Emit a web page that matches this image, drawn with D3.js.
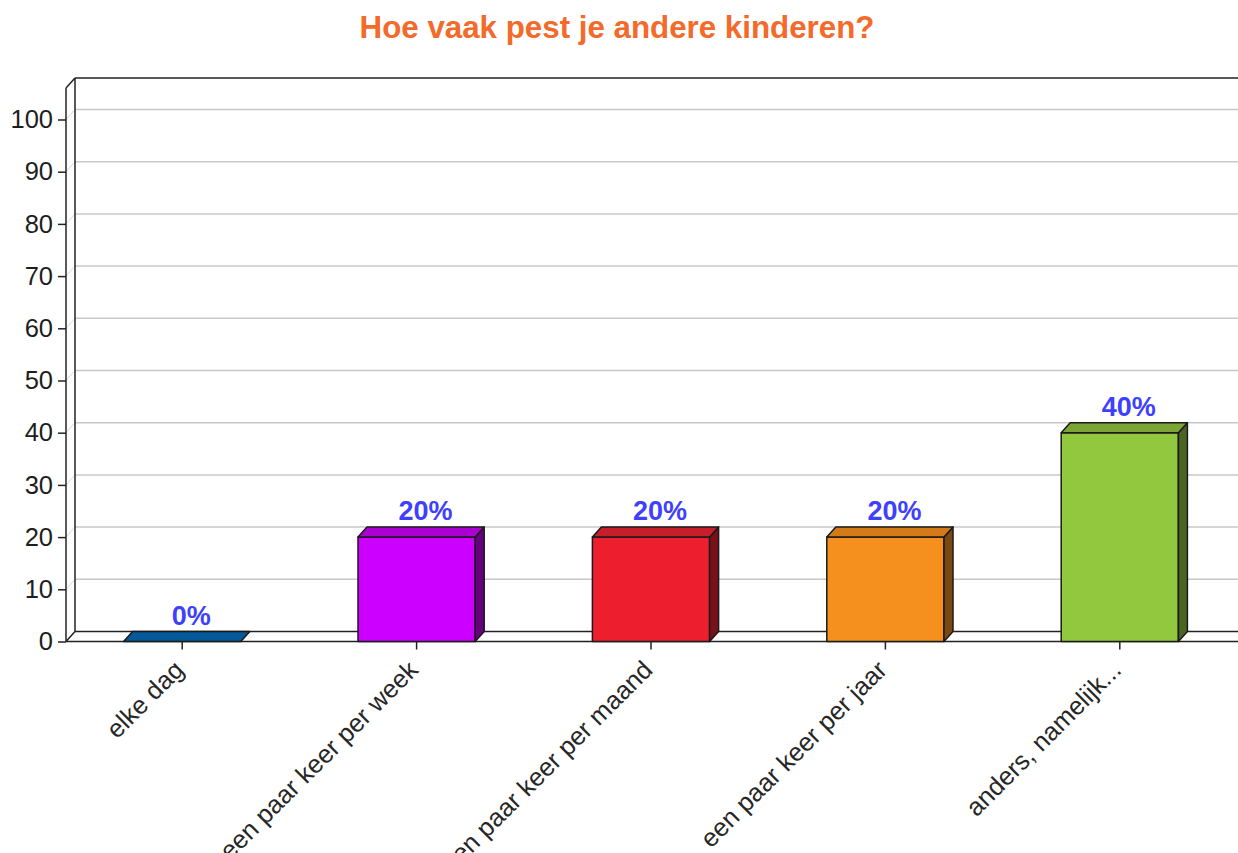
<!DOCTYPE html>
<html>
<head>
<meta charset="utf-8">
<script src="https://cdn.jsdelivr.net/npm/d3@7"></script>
<style>
  html, body { margin: 0; padding: 0; background: #fff; }
  svg { display: block; font-family: "Liberation Sans", Arial, sans-serif; }
</style>
</head>
<body>
<svg id="chart" width="1238" height="853"></svg>
<script>
const title = "Hoe vaak pest je andere kinderen?";
const categories = ["elke dag", "een paar keer per week", "een paar keer per maand", "een paar keer per jaar", "anders, namelijk..."];
const values = [0, 20, 20, 20, 40];
const valueLabels = ["0%", "20%", "20%", "20%", "40%"];
const frontColors = ["#04599a", "#cc00ff", "#ed1f2e", "#f5901e", "#92c83e"];
const topColors   = ["#04599a", "#aa00d4", "#c81d2a", "#d47a18", "#7ba534"];
const sideColors  = ["#034070", "#660080", "#78111a", "#7a4810", "#4a6521"];
const yTicks = [0, 10, 20, 30, 40, 50, 60, 70, 80, 90, 100];

const W = 1238, H = 853;
const svg = d3.select("#chart");
const DX = 9, DY = -10;
const x0 = 66;
const yBottom = 641.5, yTopFront = 88;

const x = d3.scaleBand().domain(categories).range([65, 1237]).paddingInner(0.5).paddingOuter(0.25);
const y = d3.scaleLinear().domain([0, 100]).range([yBottom, 119.5]);

// Title
svg.append("text")
  .attr("x", 617).attr("y", 38)
  .attr("text-anchor", "middle")
  .attr("font-weight", "bold")
  .attr("font-size", 31.3)
  .attr("fill", "#f36a2a")
  .text(title);

// Gridlines on back wall + connectors
const grid = svg.append("g");
grid.selectAll("line.g").data(yTicks.filter(d => d > 0)).join("line")
  .attr("x1", x0 + DX).attr("x2", W)
  .attr("y1", d => y(d) + DY).attr("y2", d => y(d) + DY)
  .attr("stroke", "#c8c8c8").attr("stroke-width", 1.5);
grid.selectAll("line.c").data(yTicks.filter(d => d > 0)).join("line")
  .attr("x1", x0).attr("x2", x0 + DX)
  .attr("y1", d => y(d)).attr("y2", d => y(d) + DY)
  .attr("stroke", "#d8d8d8").attr("stroke-width", 1);

// Frame
const frame = svg.append("g").attr("stroke", "#222").attr("stroke-width", 1.5).attr("fill", "none");
frame.append("line").attr("x1", x0 + DX).attr("x2", x0 + DX).attr("y1", yTopFront + DY).attr("y2", yBottom + DY);
frame.append("line").attr("x1", x0 + DX).attr("x2", W).attr("y1", yTopFront + DY).attr("y2", yTopFront + DY);
frame.append("line").attr("x1", x0).attr("x2", x0 + DX).attr("y1", yTopFront).attr("y2", yTopFront + DY);
frame.append("line").attr("x1", x0 + DX).attr("x2", W).attr("y1", yBottom + DY).attr("y2", yBottom + DY);
frame.append("line").attr("x1", x0).attr("x2", x0 + DX).attr("y1", yBottom).attr("y2", yBottom + DY);
frame.append("line").attr("x1", x0).attr("x2", x0).attr("y1", yTopFront).attr("y2", yBottom);
frame.append("line").attr("x1", x0).attr("x2", W).attr("y1", yBottom).attr("y2", yBottom);

// Bars
const bars = svg.append("g").attr("stroke", "#1a1a1a").attr("stroke-width", 1.5).attr("stroke-linejoin", "round");
categories.forEach((c, i) => {
  const bx = x(c), bw = x.bandwidth(), yt = y(values[i]), yb = y(0);
  if (yb - yt > 0) {
    bars.append("rect").attr("x", bx).attr("y", yt).attr("width", bw).attr("height", yb - yt)
      .attr("fill", frontColors[i]);
    bars.append("polygon")
      .attr("points", [[bx + bw, yt], [bx + bw + DX, yt + DY], [bx + bw + DX, yb + DY], [bx + bw, yb]].join(" "))
      .attr("fill", sideColors[i]);
  }
  bars.append("polygon")
    .attr("points", [[bx, yt], [bx + DX, yt + DY], [bx + bw + DX, yt + DY], [bx + bw, yt]].join(" "))
    .attr("fill", topColors[i]);
});

// Value labels
svg.append("g").selectAll("text").data(categories).join("text")
  .attr("x", (c) => x(c) + x.bandwidth() / 2 + DX)
  .attr("y", (c, i) => y(values[i]) + DY - 7)
  .attr("text-anchor", "middle")
  .attr("font-weight", "bold")
  .attr("font-size", 27)
  .attr("fill", "#3f3fff")
  .text((c, i) => valueLabels[i]);

// Y axis
const yAxis = svg.append("g").attr("transform", `translate(${x0},0)`)
  .call(d3.axisLeft(y).tickValues(yTicks).tickSize(8).tickPadding(5).tickFormat(d3.format("d")));
yAxis.select(".domain").remove();
yAxis.selectAll(".tick line").attr("stroke", "#222").attr("stroke-width", 1.5);
yAxis.selectAll(".tick text").attr("font-size", 25.5).attr("fill", "#1e1e1e")
  .attr("font-family", "Liberation Sans, Arial, sans-serif");

// X axis
const xAxis = svg.append("g").attr("transform", `translate(0,${yBottom})`)
  .call(d3.axisBottom(x).tickSize(8));
xAxis.select(".domain").remove();
xAxis.selectAll(".tick line").attr("stroke", "#222").attr("stroke-width", 1.5);
xAxis.selectAll(".tick text")
  .attr("font-size", 25.5).attr("fill", "#262626")
  .attr("font-family", "Liberation Sans, Arial, sans-serif")
  .attr("text-anchor", "end")
  .attr("x", 0).attr("y", 0).attr("dy", 0)
  .attr("transform", "translate(3,30) rotate(-45)");
</script>
</body>
</html>
